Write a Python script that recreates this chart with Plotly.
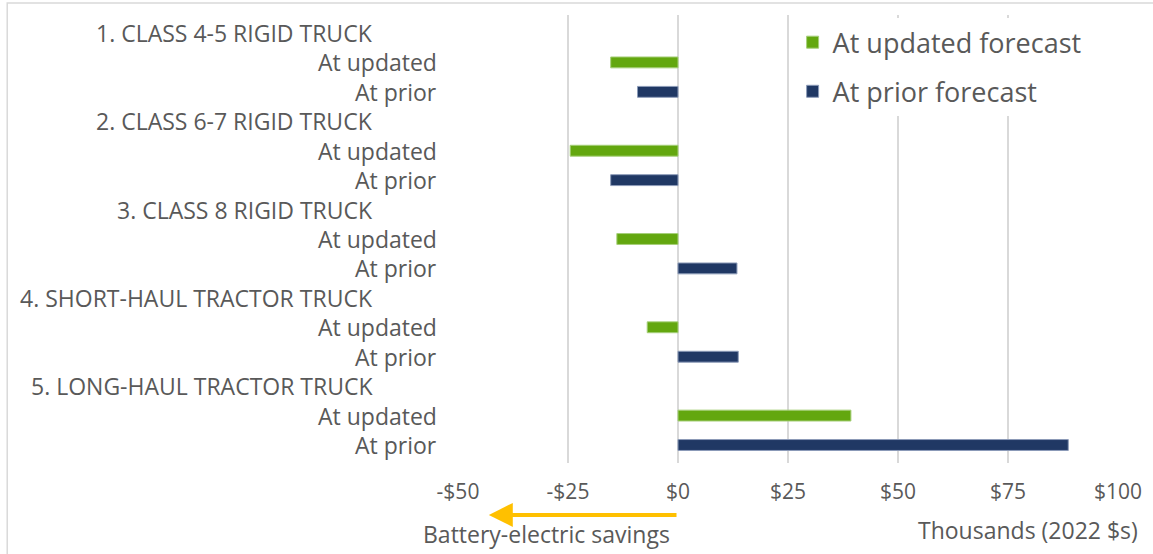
import plotly.graph_objects as go

segments = [
    "1. CLASS 4-5 RIGID TRUCK",
    "2. CLASS 6-7 RIGID TRUCK",
    "3. CLASS 8 RIGID TRUCK",
    "4. SHORT-HAUL TRACTOR TRUCK",
    "5. LONG-HAUL TRACTOR TRUCK",
]
row_labels = ["At updated", "At prior"]
updated = [-15.3, -24.5, -13.9, -7.0, 39.3]
prior = [-9.2, -15.3, 13.4, 13.7, 88.7]
tick_vals = [-50, -25, 0, 25, 50, 75, 100]
tick_text = ["-$50", "-$25", "$0", "$25", "$50", "$75", "$100"]

GREEN = "#63A70F"
NAVY = "#203864"
GREY = "#595959"
FONT = "Open Sans"

# one category row per header / bar
rows = []
for i in range(len(segments)):
    rows += [f"{i}h", f"{i}u", f"{i}p"]

fig = go.Figure()
fig.add_trace(go.Bar(
    name="At updated forecast", orientation="h",
    x=updated, y=[f"{i}u" for i in range(len(segments))],
    marker=dict(color=GREEN, line=dict(color="#A6CF7A", width=1)),
    width=0.37, legendgroup="a",
))
fig.add_trace(go.Bar(
    name="At prior forecast", orientation="h",
    x=prior, y=[f"{i}p" for i in range(len(segments))],
    marker=dict(color=NAVY, line=dict(color="#8C9BB8", width=1)),
    width=0.37, legendgroup="b",
))

annotations = []
for i, seg in enumerate(segments):
    annotations.append(dict(
        text=seg, xref="paper", yref="y", x=-0.126, y=f"{i}h",
        xanchor="right", showarrow=False, font=dict(size=23, color=GREY),
    ))
    for lab, suf in zip(row_labels, ["u", "p"]):
        annotations.append(dict(
            text=lab, xref="paper", yref="y", x=-0.029, y=f"{i}{suf}",
            xanchor="right", showarrow=False, font=dict(size=23, color=GREY),
        ))

# savings arrow and notes under the axis
annotations.append(dict(
    xref="x", yref="paper", x=-43, y=-0.116, ax=0, ay=0,
    axref="x", ayref="pixel", text="", showarrow=True,
    arrowhead=2, arrowsize=1.2, arrowwidth=4, arrowcolor="#FFC000",
))
annotations.append(dict(
    text="Battery-electric savings", xref="x", yref="paper", x=-29.8, y=-0.158,
    yanchor="middle", showarrow=False, font=dict(size=23, color=GREY),
))
annotations.append(dict(
    text="Thousands (2022 $s)", xref="paper", yref="paper", x=1.033, y=-0.150,
    xanchor="right", yanchor="middle", showarrow=False,
    font=dict(size=23, color=GREY),
))

fig.update_layout(
    width=1153, height=554,
    margin=dict(l=458, r=35, t=15, b=91),
    paper_bgcolor="white", plot_bgcolor="white",
    font=dict(family=FONT, color=GREY),
    barmode="overlay",
    showlegend=True,
    legend=dict(
        x=0.507, y=0.993, xanchor="left", yanchor="top",
        bgcolor="white", font=dict(size=27, color=GREY),
        traceorder="grouped", tracegroupgap=11,
    ),
    annotations=annotations,
    shapes=[dict(
        type="rect", xref="paper", yref="paper",
        x0=-0.683, x1=1.1, y0=-0.3, y1=1.027,
        line=dict(color="#D9D9D9", width=1.5), layer="below",
    )],
)
fig.update_xaxes(
    range=[-50, 100], tickvals=tick_vals, ticktext=tick_text,
    showgrid=True, gridcolor="#D9D9D9", gridwidth=2,
    zeroline=True, zerolinecolor="#D9D9D9", zerolinewidth=2,
    tickfont=dict(size=21, color=GREY), ticklabelstandoff=14,
    showline=False,
)
fig.update_yaxes(
    type="category", categoryarray=rows, autorange="reversed",
    showticklabels=False, showgrid=False, zeroline=False,
)

fig.write_html(
    "out.html",
    config={"displayModeBar": False},
    post_script="document.body.style.margin='0';",
)
